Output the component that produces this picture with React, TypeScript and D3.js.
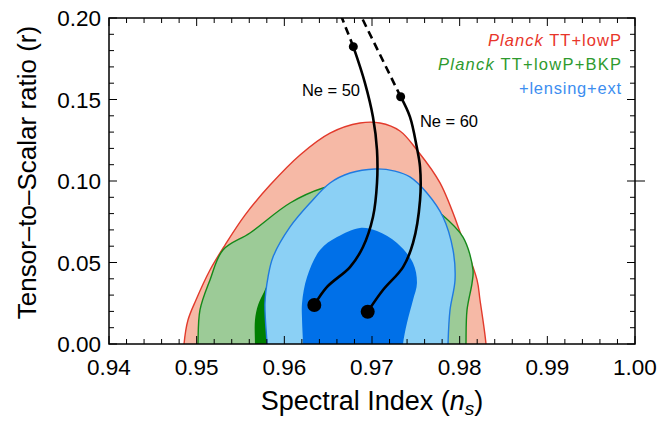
import React from "react";
import * as d3 from "d3";

type P = [number, number];

const xTicks = [0.94, 0.95, 0.96, 0.97, 0.98, 0.99, 1.0];
const yTicks = [0.0, 0.05, 0.1, 0.15, 0.2];

const redOuter: P[] = [
  [0.94850, -0.01], [0.94856, 0], [0.94901, 0.0147], [0.94992, 0.027], [0.95152, 0.0454],
  [0.95323, 0.0607], [0.95551, 0.0791], [0.95837, 0.0975], [0.96179, 0.116],
  [0.96521, 0.1294], [0.96863, 0.1356],
  [0.97091, 0.1356], [0.97319, 0.1307], [0.97513, 0.119], [0.97776, 0.0988],
  [0.98038, 0.0638], [0.98198, 0.0393], [0.98232, 0.027], [0.983, 0], [0.98305, -0.01],
];

const greenOuter: P[] = [
  [0.95012, -0.01], [0.95015, 0], [0.95038, 0.0209], [0.95152, 0.0393], [0.953, 0.0577],
  [0.95608, 0.0681], [0.96065, 0.0865], [0.96441, 0.0957], [0.96806, 0.0994],
  [0.97125, 0.0988], [0.97513, 0.0902], [0.97776, 0.0804], [0.98038, 0.0656],
  [0.98152, 0.0454], [0.98141, 0.0374], [0.98084, 0.0209], [0.98072, 0], [0.9807, -0.01],
];

const greenInner: P[] = [
  [0.95665, -0.01], [0.95665, 0], [0.95665, 0.0147], [0.957, 0.0239], [0.95768, 0.0319],
  [0.95859, 0.0423], [0.96179, 0.0607], [0.96863, 0.0669], [0.97547, 0.0515],
  [0.97662, 0], [0.97662, -0.01],
];

const blueOuter: P[] = [
  [0.95805, -0.01], [0.95802, 0], [0.95779, 0.0252], [0.95814, 0.0411], [0.95871, 0.0534],
  [0.96065, 0.0718], [0.96293, 0.0865], [0.96521, 0.0988], [0.96749, 0.1049],
  [0.97034, 0.1074], [0.97262, 0.1061], [0.97433, 0.1025], [0.97627, 0.0926],
  [0.9781, 0.0779], [0.97924, 0.0577], [0.97947, 0.0393], [0.9789, 0.0209],
  [0.97867, 0], [0.97865, -0.01],
];

const blueInner: P[] = [
  [0.96215, -0.01], [0.96213, 0], [0.96202, 0.0147], [0.96202, 0.0252], [0.96259, 0.0411],
  [0.96407, 0.0577], [0.96601, 0.0656], [0.96863, 0.0712], [0.97057, 0.0693],
  [0.97285, 0.062], [0.97468, 0.0497], [0.97513, 0.0374], [0.97468, 0.027],
  [0.97399, 0.0129], [0.97354, 0], [0.9735, -0.01],
];

const ne50Solid: P[] = [
  [0.96342, 0.0239], [0.96487, 0.035], [0.96749, 0.0472], [0.96897, 0.0595],
  [0.97011, 0.0779], [0.97057, 0.0988], [0.97057, 0.119], [0.97011, 0.1393],
  [0.9692, 0.1601], [0.96787, 0.1824],
];
const ne50Dashed: P[] = [[0.96787, 0.1824], [0.96621, 0.205]];

const ne60Solid: P[] = [
  [0.96951, 0.0198], [0.97125, 0.0331], [0.97354, 0.0472], [0.97468, 0.062],
  [0.97548, 0.0883], [0.97548, 0.1086], [0.9751, 0.121], [0.97433, 0.1393],
  [0.97327, 0.1517],
];
const ne60Dashed: P[] = [[0.97327, 0.1517], [0.9684, 0.205]];

const bigDots: P[] = [[0.96342, 0.0239], [0.96951, 0.0198]];
const smallDots: P[] = [[0.96787, 0.1824], [0.97327, 0.1517]];

const L = 109, R = 635, T = 18, B = 344;
const FONT = "'Liberation Sans', Arial, Helvetica, sans-serif";

export default function App() {
  const x = d3.scaleLinear().domain([0.94, 1.0]).range([L, R]);
  const y = d3.scaleLinear().domain([0, 0.2]).range([B, T]);
  const area = d3.line<P>().x(d => x(d[0])).y(d => y(d[1])).curve(d3.curveCatmullRom.alpha(0.5));
  const closed = (pts: P[]) => area(pts) + "Z";
  const line = area;

  const xMinor = d3.range(0.94, 1.0001, 0.002);
  const yMinor = d3.range(0, 0.2001, 0.01);

  return (
    <svg width={662} height={421} style={{ display: "block", position: "absolute", left: 0, top: 0 }}>
      <defs>
        <clipPath id="plot">
          <rect x={L} y={T} width={R - L} height={B - T} />
        </clipPath>
      </defs>
      <rect x={0} y={0} width={662} height={421} fill="#fff" />
      <g clipPath="url(#plot)">
        <path d={closed(redOuter)} fill="#f6b9a6" stroke="#e23a2c" strokeWidth={1.4} />
        <path d={closed(greenOuter)} fill="#9ccb97" stroke="#14891a" strokeWidth={1.4} />
        <path d={closed(greenInner)} fill="#007f00" />
        <path d={closed(blueOuter)} fill="#8bd0f5" stroke="#1f7ae0" strokeWidth={1.4} />
        <path d={closed(blueInner)} fill="#0070e8" />
        <path d={line(ne50Solid)!} fill="none" stroke="#000" strokeWidth={2.6} />
        <path d={line(ne60Solid)!} fill="none" stroke="#000" strokeWidth={2.6} />
        <path d={line(ne50Dashed)!} fill="none" stroke="#000" strokeWidth={2.6} strokeDasharray="8 5" />
        <path d={line(ne60Dashed)!} fill="none" stroke="#000" strokeWidth={2.6} strokeDasharray="8 5" />
        {bigDots.map((d, i) => <circle key={"b" + i} cx={x(d[0])} cy={y(d[1])} r={7} fill="#000" />)}
        {smallDots.map((d, i) => <circle key={"s" + i} cx={x(d[0])} cy={y(d[1])} r={4.5} fill="#000" />)}
      </g>

      {/* ticks */}
      <g stroke="#000" strokeWidth={1}>
        {xMinor.map((v, i) => {
          const major = i % 5 === 0;
          const len = major ? 8 : 5;
          return (
            <g key={"xt" + i}>
              <line x1={x(v)} x2={x(v)} y1={B} y2={B - len} />
              <line x1={x(v)} x2={x(v)} y1={T} y2={T + len} />
            </g>
          );
        })}
        {yMinor.map((v, i) => {
          const major = i % 5 === 0;
          const len = major ? 8 : 5;
          return (
            <g key={"yt" + i}>
              <line x1={L} x2={L + len} y1={y(v)} y2={y(v)} />
              <line x1={R} x2={R - len} y1={y(v)} y2={y(v)} />
            </g>
          );
        })}
        <line x1={R} x2={R + 10} y1={y(0.1)} y2={y(0.1)} />
      </g>
      <rect x={L} y={T} width={R - L} height={B - T} fill="none" stroke="#000" strokeWidth={1.5} />

      {/* tick labels */}
      <g fontFamily={FONT} fontSize={22.5} fill="#000">
        {xTicks.map(v => (
          <text key={"xl" + v} x={x(v)} y={375} textAnchor="middle">{v.toFixed(2)}</text>
        ))}
        {yTicks.map(v => (
          <text key={"yl" + v} x={101} y={y(v) + 8} textAnchor="end">{v.toFixed(2)}</text>
        ))}
      </g>

      {/* axis titles */}
      <text x={372} y={410} textAnchor="middle" fontFamily={FONT} fontSize={27} fill="#000">
        Spectral Index (<tspan fontStyle="italic">n</tspan><tspan fontStyle="italic" fontSize={19} dy={5}>s</tspan><tspan dy={-5}>)</tspan>
      </text>
      <text transform="translate(36,172.5) rotate(-90)" textAnchor="middle" fontFamily={FONT} fontSize={26} fill="#000">
        Tensor–to–Scalar ratio (r)
      </text>

      {/* Ne labels */}
      <g fontFamily={FONT} fontSize={16.5} fill="#000">
        <text x={302} y={96} textLength={58} lengthAdjust="spacing">Ne = 50</text>
        <text x={420} y={127} textLength={58} lengthAdjust="spacing">Ne = 60</text>
      </g>

      {/* legend */}
      <g fontFamily={FONT} fontSize={16.5}>
        <text x={488} y={46} fill="#e8352a" textLength={133} lengthAdjust="spacing"><tspan fontStyle="italic">Planck</tspan> TT+lowP</text>
        <text x={438} y={70} fill="#2e9a2e" textLength={183} lengthAdjust="spacing"><tspan fontStyle="italic">Planck</tspan> TT+lowP+BKP</text>
        <text x={519} y={94} fill="#3d8ef0" textLength={102} lengthAdjust="spacing">+lensing+ext</text>
      </g>
    </svg>
  );
}
